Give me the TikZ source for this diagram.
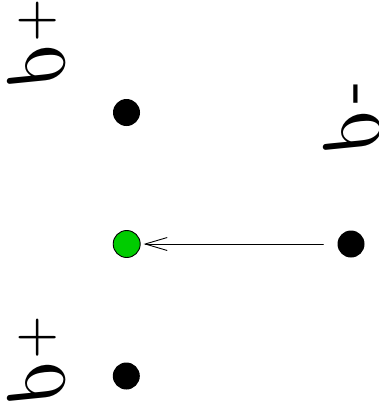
\documentclass[tikz,border=0pt]{standalone}
\usepackage{amsmath,amssymb}
\usepackage{tikz}
\usetikzlibrary{arrows.meta}
\usepackage{xcolor}
\definecolor{dotgreen}{RGB}{0,204,0}
% rho with less slant
\newcommand{\uprho}{\special{pdf:btrans matrix 1 0 -0.15 1 0 0}$\rho$\special{pdf:etrans}}

\begin{document}
\begin{tikzpicture}[x=1pt,y=-1pt,>={Straight Barb[length=22pt,width=13pt]},line cap=round,
  dot/.style={circle,fill=black,inner sep=0pt,minimum size=27pt},
  charge/.style={anchor=base west,inner sep=0pt,cm={0,8.9,8.9,0,(0,0)}}]
\useasboundingbox (0,0) rectangle (379,407);
\node[dot] (upper) at (126.5,112.5) {};
\node[dot,fill=dotgreen,draw=black,line width=0.9pt] (probe) at (126.7,244) {};
\node[dot] (source) at (351,244) {};
\node[dot] (lower) at (126.3,376) {};
\draw[->,line width=0.9pt,shorten <=14pt,shorten >=3pt] (source) -- (probe);
\node[charge] (qa) at (26.6,91) {\uprho${\scriptscriptstyle +}$};
\node[charge] (qb) at (342.3,157.5) {\uprho\kern.06em{\scriptsize -}};
\node[charge] (qc) at (26.6,408) {\uprho${\scriptscriptstyle +}$};
\end{tikzpicture}
\end{document}
